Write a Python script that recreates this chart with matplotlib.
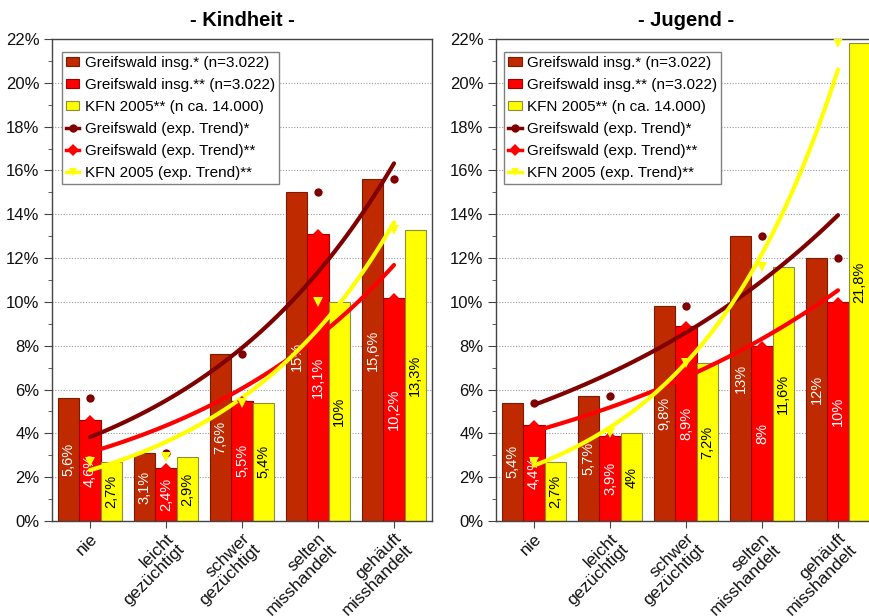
import matplotlib
matplotlib.use("Agg")
import matplotlib.pyplot as plt
import numpy as np
from matplotlib.lines import Line2D
from matplotlib.patches import Patch
from matplotlib.ticker import MultipleLocator, FuncFormatter

plt.rcParams['font.family'] = ['Liberation Sans', 'DejaVu Sans']

# ---- data -------------------------------------------------------------
categories = ['nie', 'leicht\ngezüchtigt', 'schwer\ngezüchtigt',
              'selten\nmisshandelt', 'gehäuft\nmisshandelt']
panel_titles = ['- Kindheit -', '- Jugend -']

kindheit_gw1 = [5.6, 3.1, 7.6, 15.0, 15.6]
kindheit_gw2 = [4.6, 2.4, 5.5, 13.1, 10.2]
kindheit_kfn = [2.7, 2.9, 5.4, 10.0, 13.3]

jugend_gw1 = [5.4, 5.7, 9.8, 13.0, 12.0]
jugend_gw2 = [4.4, 3.9, 8.9, 8.0, 10.0]
jugend_kfn = [2.7, 4.0, 7.2, 11.6, 21.8]

bar_names = ['Greifswald insg.* (n=3.022)', 'Greifswald insg.** (n=3.022)',
             'KFN 2005** (n ca. 14.000)']
trend_names = ['Greifswald (exp. Trend)*', 'Greifswald (exp. Trend)**',
               'KFN 2005 (exp. Trend)**']

# ---- styling ------------------------------------------------------------
bar_colors = ['#C02A00', '#FF0000', '#FFFF00']
bar_edges = ['#7A1C00', '#A00000', '#8C8C3A']
label_colors = ['white', 'white', 'black']
trend_colors = ['#800000', '#FF0000', '#FFFF00']
trend_markers = ['o', 'D', 'v']
marker_sizes = [6, 5, 6.5]
axis_col = '#444444'


def pct_label(v):
    return ('{:g}'.format(v)).replace('.', ',') + '%'


def exp_trend(y):
    x = np.arange(len(y))
    b, a = np.polyfit(x, np.log(y), 1)
    xs = np.linspace(0, len(y) - 1, 100)
    return xs, np.exp(a + b * xs)


fig = plt.figure(figsize=(8.7, 6.16), dpi=100)
W, H = 870.0, 616.0
positions = [[52 / W, 95 / H, 380 / W, 482 / H],
             [496 / W, 95 / H, 380 / W, 482 / H]]
legend_x = [0.026, 0.021]
panels = [[kindheit_gw1, kindheit_gw2, kindheit_kfn],
          [jugend_gw1, jugend_gw2, jugend_kfn]]

x = np.arange(len(categories))
w = 0.28

for pi, (series, title) in enumerate(zip(panels, panel_titles)):
    ax = fig.add_axes(positions[pi])
    for si, vals in enumerate(series):
        bars = ax.bar(x + (si - 1) * w, vals, width=w, color=bar_colors[si],
                      edgecolor=bar_edges[si], linewidth=0.8, zorder=2)
        ax.bar_label(bars, labels=[pct_label(v) for v in vals],
                     label_type='center', rotation=90, fontsize=10.5,
                     color=label_colors[si], zorder=3)

    for si, vals in enumerate(series):
        xs, ys = exp_trend(vals)
        ax.plot(xs, ys, color=trend_colors[si], linewidth=3,
                solid_capstyle='round', zorder=4)
    for si, vals in enumerate(series):
        ax.plot(x, vals, linestyle='none', marker=trend_markers[si],
                color=trend_colors[si], markersize=marker_sizes[si],
                markeredgewidth=0, zorder=5)

    ax.set_xlim(-0.5, 4.5)
    ax.set_ylim(0, 22)
    ax.yaxis.set_major_locator(MultipleLocator(2))
    ax.yaxis.set_minor_locator(MultipleLocator(1))
    ax.yaxis.set_major_formatter(FuncFormatter(lambda v, p: '{:.0f}%'.format(v)))
    ax.yaxis.grid(True, which='major', linestyle=(0, (1, 1.5)),
                  color='#9A9A9A', linewidth=0.8)
    ax.set_axisbelow(True)

    ax.set_xticks(x)
    ax.set_xticklabels(categories, rotation=45, ha='right', va='top',
                       rotation_mode='anchor', fontsize=12.5,
                       color='#111111', linespacing=1.05)
    ax.tick_params(axis='x', length=5, color=axis_col, pad=2)
    ax.tick_params(axis='y', which='major', length=6, color=axis_col,
                   labelsize=12, labelcolor='#111111', pad=3)
    ax.tick_params(axis='y', which='minor', length=3, color=axis_col)
    for sp in ax.spines.values():
        sp.set_color(axis_col)
        sp.set_linewidth(1.0)

    ax.set_title(title, fontsize=14.5, fontweight='bold', pad=9)

    handles = [Patch(facecolor=bar_colors[i], edgecolor=bar_edges[i],
                     linewidth=0.8) for i in range(3)]
    handles += [Line2D([], [], color=trend_colors[i], linewidth=2.5,
                       marker=trend_markers[i], markersize=6,
                       markeredgewidth=0) for i in range(3)]
    leg = ax.legend(handles, bar_names + trend_names, loc='upper left',
                    bbox_to_anchor=(legend_x[pi], 0.973), borderaxespad=0,
                    fontsize=11, frameon=True, fancybox=False,
                    edgecolor='#808080', framealpha=1, handlelength=0.9,
                    handleheight=0.6, handletextpad=0.35, labelspacing=0.53,
                    borderpad=0.25)
    leg.get_frame().set_linewidth(1.0)
    leg.set_zorder(6)

fig.savefig('out.png', dpi=100, facecolor='white')
